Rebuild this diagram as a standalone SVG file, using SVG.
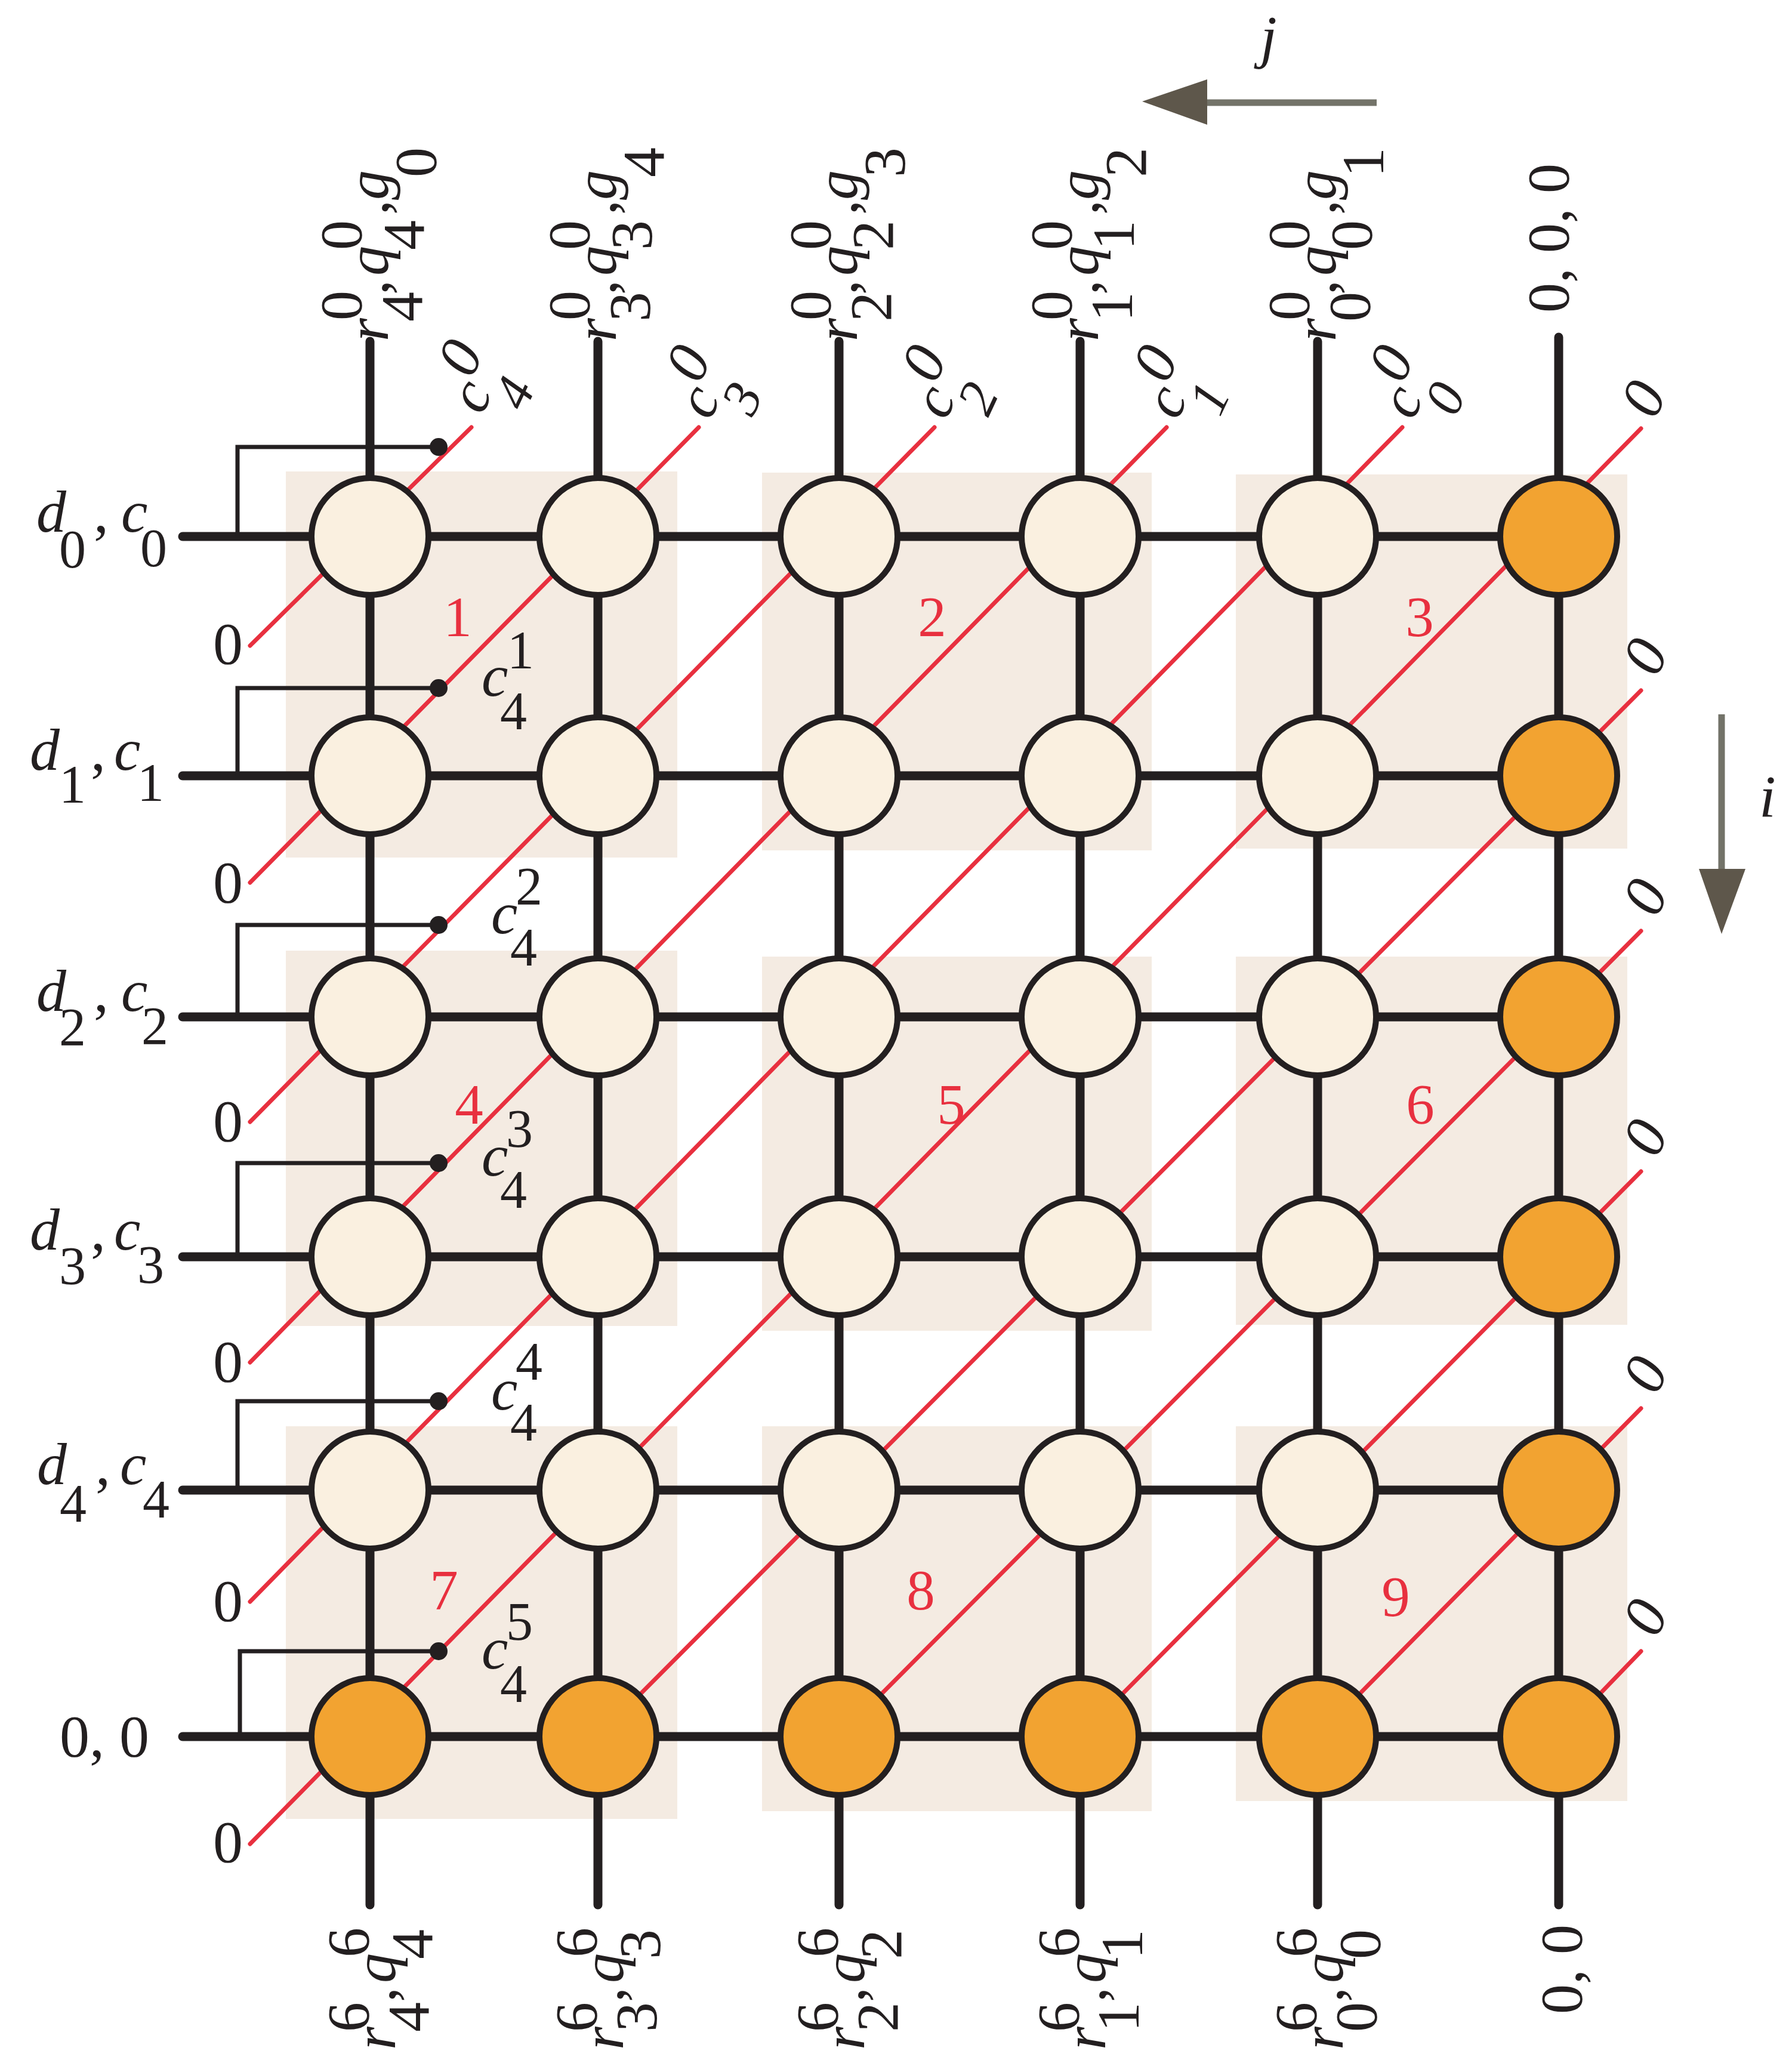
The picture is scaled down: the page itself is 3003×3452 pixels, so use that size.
<svg xmlns="http://www.w3.org/2000/svg" width="3003" height="3452" viewBox="0 0 3003 3452">
<style>
.bg{fill:#f4ebe2}
.w{stroke:#231f20;stroke-width:15;stroke-linecap:round;fill:none}
.br{stroke:#231f20;stroke-width:7;fill:none}
.dot{fill:#231f20}
.rd{stroke:#e8303f;stroke-width:7;stroke-linecap:round}
.n{stroke:#231f20;stroke-width:10}
.lt{fill:#faf0e0}
.or{fill:#f2a331}
text{font-family:"Liberation Serif","Times New Roman",serif;fill:#231f20;font-size:100px}
.i{font-style:italic}
.s{font-size:90px}
.num{font-size:95px;fill:#e8303f;text-anchor:middle}
</style>
<g id="blocks">
<rect class="bg" x="479" y="790" width="656" height="647"/>
<rect class="bg" x="1277" y="792" width="653" height="633"/>
<rect class="bg" x="2071" y="795" width="656" height="627"/>
<rect class="bg" x="479" y="1593" width="656" height="629"/>
<rect class="bg" x="1277" y="1603" width="653" height="627"/>
<rect class="bg" x="2071" y="1603" width="656" height="617"/>
<rect class="bg" x="479" y="2390" width="656" height="658"/>
<rect class="bg" x="1277" y="2390" width="653" height="645"/>
<rect class="bg" x="2071" y="2390" width="656" height="628"/>
</g>
<g id="block-numbers">
<text class="num" x="767" y="1066">1</text>
<text class="num" x="1562" y="1066">2</text>
<text class="num" x="2379" y="1066">3</text>
<text class="num" x="786" y="1883">4</text>
<text class="num" x="1594" y="1883">5</text>
<text class="num" x="2380" y="1883">6</text>
<text class="num" x="744" y="2697">7</text>
<text class="num" x="1543" y="2697">8</text>
<text class="num" x="2339" y="2708">9</text>
</g>
<g id="connectors">
<g id="diagonals">
<line class="rd" x1="419" y1="1082" x2="790" y2="716"/>
<line class="rd" x1="419" y1="1479" x2="1171" y2="716"/>
<line class="rd" x1="419" y1="1880" x2="1566" y2="716"/>
<line class="rd" x1="419" y1="2283" x2="1955" y2="716"/>
<line class="rd" x1="419" y1="2684" x2="2350" y2="716"/>
<line class="rd" x1="419" y1="3090" x2="2750" y2="718"/>
<line class="rd" x1="1002" y1="2910" x2="2750" y2="1157"/>
<line class="rd" x1="1406" y1="2910" x2="2750" y2="1560"/>
<line class="rd" x1="1810" y1="2910" x2="2750" y2="1963"/>
<line class="rd" x1="2208" y1="2910" x2="2750" y2="2360"/>
<line class="rd" x1="2612" y1="2910" x2="2750" y2="2767"/>
</g>
<g id="verticals">
<line class="w" x1="620" y1="572" x2="620" y2="3192"/>
<line class="w" x1="1002" y1="572" x2="1002" y2="3192"/>
<line class="w" x1="1406" y1="572" x2="1406" y2="3192"/>
<line class="w" x1="1810" y1="572" x2="1810" y2="3192"/>
<line class="w" x1="2208" y1="572" x2="2208" y2="3192"/>
<line class="w" x1="2612" y1="565" x2="2612" y2="3192"/>
</g>
<g id="horizontals">
<line class="w" x1="306" y1="899" x2="2612" y2="899"/>
<line class="w" x1="306" y1="1300" x2="2612" y2="1300"/>
<line class="w" x1="306" y1="1704" x2="2612" y2="1704"/>
<line class="w" x1="306" y1="2106" x2="2612" y2="2106"/>
<line class="w" x1="306" y1="2497" x2="2612" y2="2497"/>
<line class="w" x1="306" y1="2910" x2="2612" y2="2910"/>
</g>
<g id="feedback">
<path class="br" d="M398,899 V749 H735"/><circle class="dot" cx="735" cy="749" r="15"/>
<path class="br" d="M398,1300 V1153 H735"/><circle class="dot" cx="735" cy="1153" r="15"/>
<path class="br" d="M398,1704 V1550 H735"/><circle class="dot" cx="735" cy="1550" r="15"/>
<path class="br" d="M398,2106 V1949 H735"/><circle class="dot" cx="735" cy="1949" r="15"/>
<path class="br" d="M398,2497 V2348 H735"/><circle class="dot" cx="735" cy="2348" r="15"/>
<path class="br" d="M402,2910 V2767 H735"/><circle class="dot" cx="735" cy="2767" r="15"/>
</g>
</g>
<g id="nodes">
<g id="n-0-0"><circle class="n lt" cx="620" cy="899" r="98"/></g>
<g id="n-0-1"><circle class="n lt" cx="1002" cy="899" r="98"/></g>
<g id="n-0-2"><circle class="n lt" cx="1406" cy="899" r="98"/></g>
<g id="n-0-3"><circle class="n lt" cx="1810" cy="899" r="98"/></g>
<g id="n-0-4"><circle class="n lt" cx="2208" cy="899" r="98"/></g>
<g id="n-0-5"><circle class="n or" cx="2612" cy="899" r="98"/></g>
<g id="n-1-0"><circle class="n lt" cx="620" cy="1300" r="98"/></g>
<g id="n-1-1"><circle class="n lt" cx="1002" cy="1300" r="98"/></g>
<g id="n-1-2"><circle class="n lt" cx="1406" cy="1300" r="98"/></g>
<g id="n-1-3"><circle class="n lt" cx="1810" cy="1300" r="98"/></g>
<g id="n-1-4"><circle class="n lt" cx="2208" cy="1300" r="98"/></g>
<g id="n-1-5"><circle class="n or" cx="2612" cy="1300" r="98"/></g>
<g id="n-2-0"><circle class="n lt" cx="620" cy="1704" r="98"/></g>
<g id="n-2-1"><circle class="n lt" cx="1002" cy="1704" r="98"/></g>
<g id="n-2-2"><circle class="n lt" cx="1406" cy="1704" r="98"/></g>
<g id="n-2-3"><circle class="n lt" cx="1810" cy="1704" r="98"/></g>
<g id="n-2-4"><circle class="n lt" cx="2208" cy="1704" r="98"/></g>
<g id="n-2-5"><circle class="n or" cx="2612" cy="1704" r="98"/></g>
<g id="n-3-0"><circle class="n lt" cx="620" cy="2106" r="98"/></g>
<g id="n-3-1"><circle class="n lt" cx="1002" cy="2106" r="98"/></g>
<g id="n-3-2"><circle class="n lt" cx="1406" cy="2106" r="98"/></g>
<g id="n-3-3"><circle class="n lt" cx="1810" cy="2106" r="98"/></g>
<g id="n-3-4"><circle class="n lt" cx="2208" cy="2106" r="98"/></g>
<g id="n-3-5"><circle class="n or" cx="2612" cy="2106" r="98"/></g>
<g id="n-4-0"><circle class="n lt" cx="620" cy="2497" r="98"/></g>
<g id="n-4-1"><circle class="n lt" cx="1002" cy="2497" r="98"/></g>
<g id="n-4-2"><circle class="n lt" cx="1406" cy="2497" r="98"/></g>
<g id="n-4-3"><circle class="n lt" cx="1810" cy="2497" r="98"/></g>
<g id="n-4-4"><circle class="n lt" cx="2208" cy="2497" r="98"/></g>
<g id="n-4-5"><circle class="n or" cx="2612" cy="2497" r="98"/></g>
<g id="n-5-0"><circle class="n or" cx="620" cy="2910" r="98"/></g>
<g id="n-5-1"><circle class="n or" cx="1002" cy="2910" r="98"/></g>
<g id="n-5-2"><circle class="n or" cx="1406" cy="2910" r="98"/></g>
<g id="n-5-3"><circle class="n or" cx="1810" cy="2910" r="98"/></g>
<g id="n-5-4"><circle class="n or" cx="2208" cy="2910" r="98"/></g>
<g id="n-5-5"><circle class="n or" cx="2612" cy="2910" r="98"/></g>
</g>
<g id="row-labels">
<text><tspan class="i" x="61" y="891">d</tspan><tspan class="s" x="99" y="951">0</tspan><tspan x="157" y="891">,</tspan><tspan class="i" x="203" y="891">c</tspan><tspan class="s" x="235" y="949">0</tspan></text>
<text><tspan class="i" x="50" y="1290">d</tspan><tspan class="s" x="99" y="1345">1</tspan><tspan x="152" y="1290">,</tspan><tspan class="i" x="191" y="1290">c</tspan><tspan class="s" x="230" y="1342">1</tspan></text>
<text><tspan class="i" x="61" y="1694">d</tspan><tspan class="s" x="99" y="1752">2</tspan><tspan x="157" y="1694">,</tspan><tspan class="i" x="203" y="1694">c</tspan><tspan class="s" x="237" y="1750">2</tspan></text>
<text><tspan class="i" x="50" y="2094">d</tspan><tspan class="s" x="99" y="2152">3</tspan><tspan x="152" y="2094">,</tspan><tspan class="i" x="191" y="2094">c</tspan><tspan class="s" x="230" y="2150">3</tspan></text>
<text><tspan class="i" x="62" y="2487">d</tspan><tspan class="s" x="100" y="2550">4</tspan><tspan x="160" y="2487">,</tspan><tspan class="i" x="201" y="2487">c</tspan><tspan class="s" x="239" y="2543">4</tspan></text>
<text x="100" y="2943">0, 0</text>
</g>
<g id="left-zeros">
<text x="357" y="1112">0</text>
<text x="357" y="1512">0</text>
<text x="357" y="1912">0</text>
<text x="357" y="2315">0</text>
<text x="357" y="2716">0</text>
<text x="357" y="3120">0</text>
</g>
<g id="c4-labels">
<text><tspan class="i" x="807" y="1166">c</tspan><tspan class="s" x="850" y="1120">1</tspan><tspan class="s" x="838" y="1222">4</tspan></text>
<text><tspan class="i" x="823" y="1564">c</tspan><tspan class="s" x="864" y="1516">2</tspan><tspan class="s" x="855" y="1618">4</tspan></text>
<text><tspan class="i" x="807" y="1970">c</tspan><tspan class="s" x="848" y="1922">3</tspan><tspan class="s" x="838" y="2024">4</tspan></text>
<text><tspan class="i" x="823" y="2362">c</tspan><tspan class="s" x="864" y="2312">4</tspan><tspan class="s" x="855" y="2414">4</tspan></text>
<text><tspan class="i" x="807" y="2796">c</tspan><tspan class="s" x="848" y="2748">5</tspan><tspan class="s" x="838" y="2852">4</tspan></text>
</g>
<g id="top-c-labels" class="i">
<g transform="translate(808,697) rotate(-65)"><text><tspan x="0" y="0">c</tspan><tspan class="s" x="35" y="62">4</tspan><tspan x="48" y="-42">0</tspan></text></g>
<g transform="translate(1190,706) rotate(-65)"><text><tspan x="0" y="0">c</tspan><tspan class="s" x="35" y="62">3</tspan><tspan x="48" y="-42">0</tspan></text></g>
<g transform="translate(1585,706) rotate(-65)"><text><tspan x="0" y="0">c</tspan><tspan class="s" x="35" y="62">2</tspan><tspan x="48" y="-42">0</tspan></text></g>
<g transform="translate(1973,706) rotate(-65)"><text><tspan x="0" y="0">c</tspan><tspan class="s" x="35" y="62">1</tspan><tspan x="48" y="-42">0</tspan></text></g>
<g transform="translate(2368,706) rotate(-65)"><text><tspan x="0" y="0">c</tspan><tspan class="s" x="35" y="62">0</tspan><tspan x="48" y="-42">0</tspan></text></g>
</g>
<g id="right-zeros" class="i">
<g transform="translate(2754,668) rotate(-65)"><text x="0" y="33" text-anchor="middle">0</text></g>
<g transform="translate(2757,1100) rotate(-65)"><text x="0" y="33" text-anchor="middle">0</text></g>
<g transform="translate(2757,1503) rotate(-65)"><text x="0" y="33" text-anchor="middle">0</text></g>
<g transform="translate(2757,1906) rotate(-65)"><text x="0" y="33" text-anchor="middle">0</text></g>
<g transform="translate(2757,2303) rotate(-65)"><text x="0" y="33" text-anchor="middle">0</text></g>
<g transform="translate(2757,2710) rotate(-65)"><text x="0" y="33" text-anchor="middle">0</text></g>
</g>
<g id="top-labels">
<g transform="translate(650,572) rotate(-90)"><text><tspan class="i" x="0" y="0">r</tspan><tspan x="35" y="-45">0</tspan><tspan x="33" y="57">4</tspan><tspan x="78" y="0">,</tspan><tspan class="i" x="110" y="0">q</tspan><tspan x="153" y="-45">0</tspan><tspan x="153" y="60">4</tspan><tspan x="212" y="0">,</tspan><tspan class="i" x="237" y="0">g</tspan><tspan x="275" y="80">0</tspan></text></g>
<g transform="translate(1032,572) rotate(-90)"><text><tspan class="i" x="0" y="0">r</tspan><tspan x="35" y="-45">0</tspan><tspan x="33" y="57">3</tspan><tspan x="78" y="0">,</tspan><tspan class="i" x="110" y="0">q</tspan><tspan x="153" y="-45">0</tspan><tspan x="153" y="60">3</tspan><tspan x="212" y="0">,</tspan><tspan class="i" x="237" y="0">g</tspan><tspan x="275" y="80">4</tspan></text></g>
<g transform="translate(1436,572) rotate(-90)"><text><tspan class="i" x="0" y="0">r</tspan><tspan x="35" y="-45">0</tspan><tspan x="33" y="57">2</tspan><tspan x="78" y="0">,</tspan><tspan class="i" x="110" y="0">q</tspan><tspan x="153" y="-45">0</tspan><tspan x="153" y="60">2</tspan><tspan x="212" y="0">,</tspan><tspan class="i" x="237" y="0">g</tspan><tspan x="275" y="80">3</tspan></text></g>
<g transform="translate(1840,572) rotate(-90)"><text><tspan class="i" x="0" y="0">r</tspan><tspan x="35" y="-45">0</tspan><tspan x="33" y="57">1</tspan><tspan x="78" y="0">,</tspan><tspan class="i" x="110" y="0">q</tspan><tspan x="153" y="-45">0</tspan><tspan x="153" y="60">1</tspan><tspan x="212" y="0">,</tspan><tspan class="i" x="237" y="0">g</tspan><tspan x="275" y="80">2</tspan></text></g>
<g transform="translate(2238,572) rotate(-90)"><text><tspan class="i" x="0" y="0">r</tspan><tspan x="35" y="-45">0</tspan><tspan x="33" y="57">0</tspan><tspan x="78" y="0">,</tspan><tspan class="i" x="110" y="0">q</tspan><tspan x="153" y="-45">0</tspan><tspan x="153" y="60">0</tspan><tspan x="212" y="0">,</tspan><tspan class="i" x="237" y="0">g</tspan><tspan x="275" y="80">1</tspan></text></g>
<g transform="translate(2628,524) rotate(-90)"><text x="0" y="0">0, 0, 0</text></g>
</g>
<g id="bottom-labels">
<g transform="translate(662,3435) rotate(-90)"><text><tspan class="i" x="0" y="0">r</tspan><tspan x="30" y="-45">6</tspan><tspan x="30" y="56">4</tspan><tspan x="80" y="0">,</tspan><tspan class="i" x="112" y="0">q</tspan><tspan x="155" y="-45">6</tspan><tspan x="152" y="62">4</tspan></text></g>
<g transform="translate(1044,3435) rotate(-90)"><text><tspan class="i" x="0" y="0">r</tspan><tspan x="30" y="-45">6</tspan><tspan x="30" y="56">3</tspan><tspan x="80" y="0">,</tspan><tspan class="i" x="112" y="0">q</tspan><tspan x="155" y="-45">6</tspan><tspan x="152" y="62">3</tspan></text></g>
<g transform="translate(1448,3435) rotate(-90)"><text><tspan class="i" x="0" y="0">r</tspan><tspan x="30" y="-45">6</tspan><tspan x="30" y="56">2</tspan><tspan x="80" y="0">,</tspan><tspan class="i" x="112" y="0">q</tspan><tspan x="155" y="-45">6</tspan><tspan x="152" y="62">2</tspan></text></g>
<g transform="translate(1852,3435) rotate(-90)"><text><tspan class="i" x="0" y="0">r</tspan><tspan x="30" y="-45">6</tspan><tspan x="30" y="56">1</tspan><tspan x="80" y="0">,</tspan><tspan class="i" x="112" y="0">q</tspan><tspan x="155" y="-45">6</tspan><tspan x="152" y="62">1</tspan></text></g>
<g transform="translate(2250,3435) rotate(-90)"><text><tspan class="i" x="0" y="0">r</tspan><tspan x="30" y="-45">6</tspan><tspan x="30" y="56">0</tspan><tspan x="80" y="0">,</tspan><tspan class="i" x="112" y="0">q</tspan><tspan x="155" y="-45">6</tspan><tspan x="152" y="62">0</tspan></text></g>
<g transform="translate(2650,3375) rotate(-90)"><text x="0" y="0">0, 0</text></g>
</g>
<g id="axes">
<line x1="2307" y1="172" x2="2020" y2="172" stroke="#737369" stroke-width="11"/>
<polygon points="1914,170 2023,133 2023,209" fill="#5e574b"/>
<text class="i" x="2112" y="95">j</text>
<line x1="2885" y1="1197" x2="2885" y2="1460" stroke="#737369" stroke-width="11"/>
<polygon points="2885,1565 2847,1456 2925,1456" fill="#5e574b"/>
<text class="i" x="2948" y="1368">i</text>
</g>
</svg>
